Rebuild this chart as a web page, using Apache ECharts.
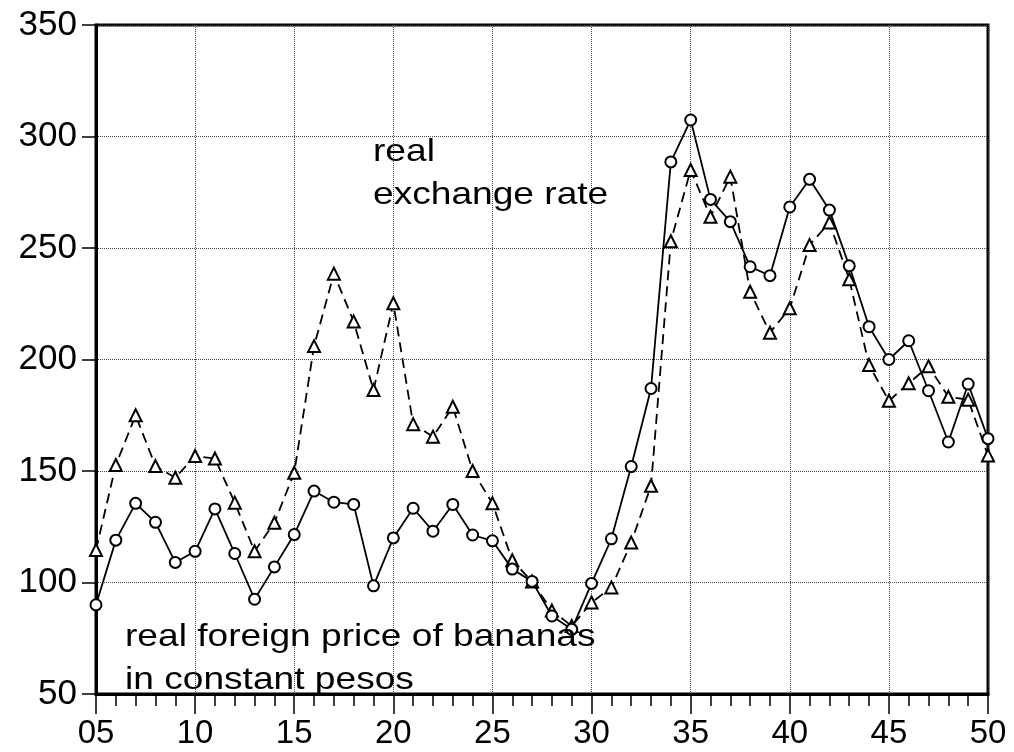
<!DOCTYPE html>
<html>
<head>
<meta charset="utf-8">
<script src="https://cdn.jsdelivr.net/npm/echarts@6/dist/echarts.min.js"></script>
<style>
html,body{margin:0;padding:0;background:#fff;}
#chart{width:1014px;height:752px;}
</style>
</head>
<body>
<div id="chart"></div>
<script>
// Years 1905..1950 (shown as two-digit labels)
var years = [5,6,7,8,9,10,11,12,13,14,15,16,17,18,19,20,21,22,23,24,25,26,27,28,29,30,31,32,33,34,35,36,37,38,39,40,41,42,43,44,45,46,47,48,49,50];

// Solid line with circle markers
var circleSeries = [90,119,135.5,127,109,114,133,113,92.5,107,121.5,141,136,135,98.5,120,133.3,123,135,121.3,118.7,106,100.5,85,79,99.6,119.6,152,187,288.6,307.4,271.8,261.8,241.6,237.6,268.4,280.8,267,242,214.7,200,208.4,186,163,189,164.5];

// Dashed line with triangle markers
var triangleSeries = [114.6,152.7,175,152.2,147,156.7,155.6,135.8,114,126.8,149.2,206,238.5,217,186.3,225.2,171,165.4,178.8,150,135.5,110,100.4,87.4,80.5,91,97.8,117.9,143.4,253,285,264,282,230.4,212,223,251.3,261.4,236,197.5,181.5,189.3,197,183.3,182,157];

var yTicks = [50,100,150,200,250,300,350];
var xTickLabels = ['05','10','15','20','25','30','35','40','45','50'];

var annotations = [
  {text:'real', x:373, y:168},
  {text:'exchange rate', x:373, y:211},
  {text:'real foreign price of bananas', x:125, y:653},
  {text:'in constant pesos', x:125, y:696}
];

function pairs(vals){ return years.map(function(y,i){ return [y, vals[i]]; }); }

var FONT = "'Liberation Sans', Arial, Helvetica, sans-serif";
var chart = echarts.init(document.getElementById('chart'), null, {renderer:'canvas'});

chart.setOption({
  animation:false,
  backgroundColor:'#fff',
  grid:{left:96, right:26, top:25, bottom:58, show:true, borderColor:'#000', borderWidth:3, backgroundColor:'transparent'},
  xAxis:{
    type:'value', min:5, max:50, interval:5,
    axisLine:{show:true, lineStyle:{color:'#000', width:3}},
    axisTick:{show:true, inside:false, length:20, lineStyle:{color:'#000', width:1.5}},
    minorTick:{show:true, splitNumber:5, length:12, lineStyle:{color:'#000', width:1.5}},
    axisLabel:{color:'#000', fontSize:33, fontFamily:FONT, margin:23,
      formatter:function(v){ var i = xTickLabels.indexOf((v<10?'0':'')+v); return i>=0 ? xTickLabels[i] : ''; }},
    splitLine:{show:true, lineStyle:{color:'#444', width:1, type:[1,1]}}
  },
  yAxis:{
    type:'value', min:yTicks[0], max:yTicks[yTicks.length-1], interval:50,
    axisLine:{show:true, lineStyle:{color:'#000', width:3}},
    axisTick:{show:true, inside:false, length:14, lineStyle:{color:'#000', width:1.5}},
    axisLabel:{color:'#000', fontSize:35, fontFamily:FONT, margin:19},
    splitLine:{show:true, lineStyle:{color:'#444', width:1, type:[1,1]}}
  },
  series:[
    {
      name:'real foreign price of bananas in constant pesos', type:'line', data:pairs(triangleSeries),
      symbol:'emptyTriangle', symbolSize:12, showSymbol:true,
      lineStyle:{color:'#000', width:1.8, type:[10,6]},
      itemStyle:{color:'#000', borderColor:'#000', borderWidth:1.6},
      z:2
    },
    {
      name:'real exchange rate', type:'line', data:pairs(circleSeries),
      symbol:'emptyCircle', symbolSize:11, showSymbol:true,
      lineStyle:{color:'#000', width:1.8, type:'solid'},
      itemStyle:{color:'#000', borderColor:'#000', borderWidth:1.6},
      z:3
    }
  ],
  graphic: annotations.map(function(a){
    return {type:'text', x:a.x, y:a.y, z:10, scaleX:1.16,
      style:{text:a.text, fill:'#000', font:'32px '+FONT, textAlign:'left', textVerticalAlign:'bottom'}};
  })
});
</script>
</body>
</html>
